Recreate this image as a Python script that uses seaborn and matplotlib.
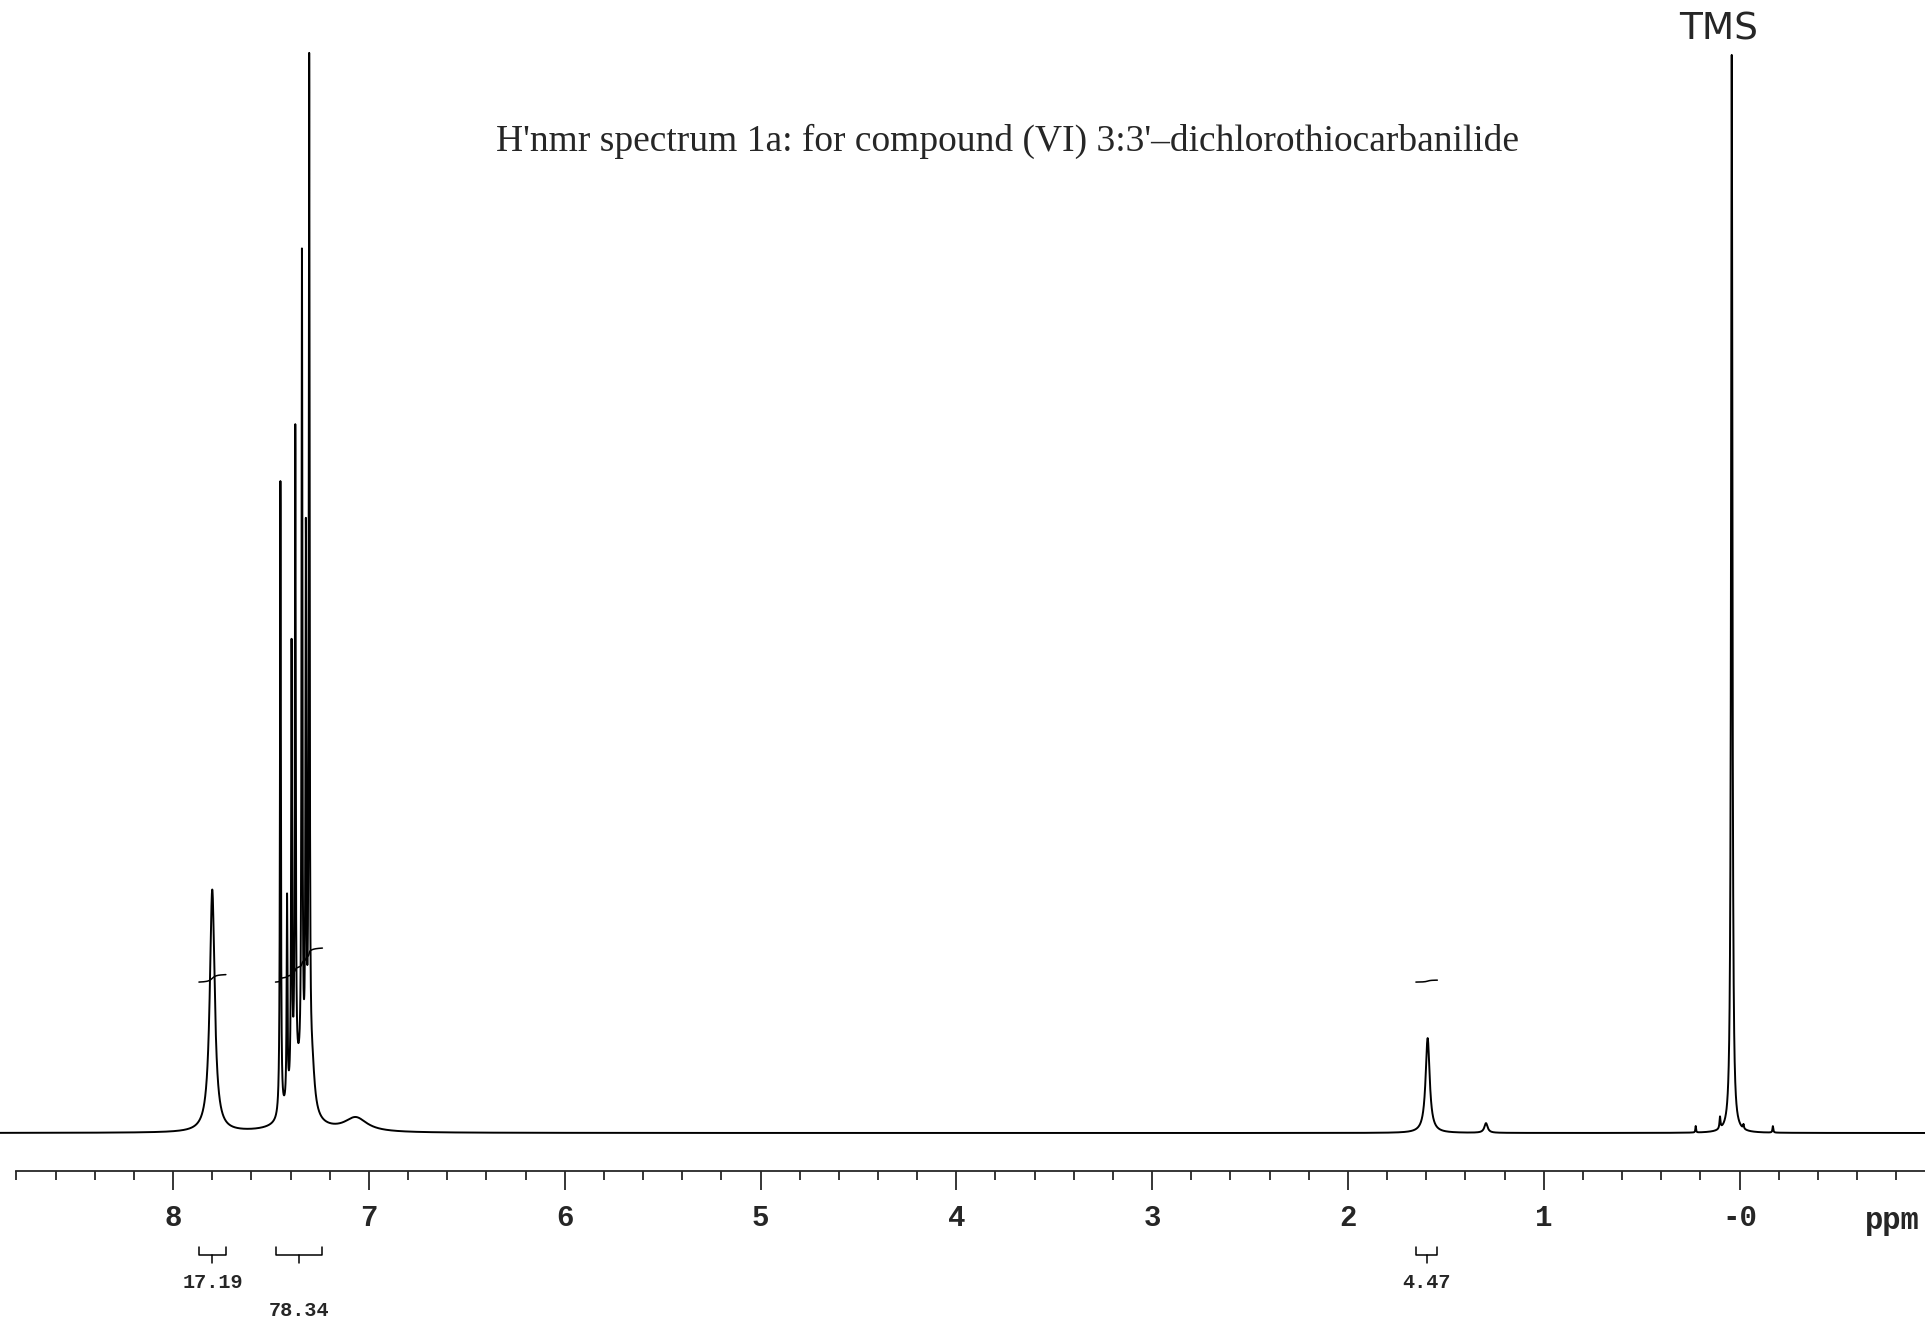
import numpy as np
import pandas as pd
import matplotlib
matplotlib.use("Agg")
import matplotlib.pyplot as plt
import matplotlib.transforms as mtransforms
import seaborn as sns

# =========================
# Data
# =========================
# peak list: centre (ppm), height (relative to TMS), line width (ppm)
peak_ppm = [7.800, 7.452, 7.418, 7.395, 7.376, 7.342, 7.322, 7.305,
            7.360, 7.290, 7.067, 1.593, 1.295, 0.224, 0.100, 0.040,
            -0.020, -0.170]
peak_height = [0.225, 0.59, 0.19, 0.41, 0.60, 0.76, 0.50, 0.945,
               0.045, 0.040, 0.013, 0.088, 0.009, 0.006, 0.011, 1.0,
               0.004, 0.006]
peak_width = [0.030, 0.005, 0.005, 0.005, 0.005, 0.005, 0.005, 0.005,
              0.100, 0.030, 0.140, 0.025, 0.020, 0.004, 0.006, 0.008,
              0.005, 0.005]

# integration regions and values printed under the axis
integral_start = [7.868, 7.477, 1.653]
integral_end = [7.730, 7.237, 1.543]
integral_value = [17.19, 78.34, 4.47]
integral_row = [0, 1, 0]

major_ticks = [8, 7, 6, 5, 4, 3, 2, 1, 0]
major_labels = ["8", "7", "6", "5", "4", "3", "2", "1", "-0"]

title = "H'nmr spectrum 1a: for compound (VI) 3:3'\u2013dichlorothiocarbanilide"

# =========================
# Build spectrum from the peak list
# =========================
ppm = np.arange(8.884, -0.947, -0.0005)
intensity = np.zeros_like(ppm)
for c, h, w in zip(peak_ppm, peak_height, peak_width):
    intensity += h / (1 + (2 * (ppm - c) / w) ** 2)

spec = pd.DataFrame({"ppm": ppm, "intensity": intensity})

# =========================
# Figure
# =========================
sns.set_style("ticks")
W, H = 1925, 1321
fig = plt.figure(figsize=(W / 100, H / 100), dpi=100)
ax_bottom = 1171  # pixel row of the ppm axis
ax = fig.add_axes([0, 1 - ax_bottom / H, 1, ax_bottom / H])

sns.lineplot(data=spec, x="ppm", y="intensity", ax=ax, color="black",
             lw=1.4, estimator=None, sort=False)

ax.set_xlim(8.884, -0.947)
ax.set_ylim(-38 / 1078, 1133 / 1078)

# integral traces
trace_base = 0.14
trace_scale = 0.434 / 1078
for s, e, v in zip(integral_start, integral_end, integral_value):
    m = (ppm <= s) & (ppm >= e)
    cum = np.cumsum(intensity[m])
    ax.plot(ppm[m], trace_base + cum / cum[-1] * v * trace_scale,
            color="black", lw=1.1)

# axis styling
sns.despine(ax=ax, left=True)
ax.spines["bottom"].set_bounds(8.8, -0.947)
ax.spines["bottom"].set_linewidth(1.3)
ax.set_yticks([])
ax.set_xticks(major_ticks)
ax.set_xticklabels(major_labels)
ax.set_xticks(np.arange(8.8, -0.95, -0.2), minor=True)
ax.tick_params(axis="x", which="major", length=13.5, width=1.3, pad=10,
               labelsize=21)
ax.tick_params(axis="x", which="minor", length=6.5, width=1.3)
for lab in ax.get_xticklabels():
    lab.set_fontfamily("Liberation Mono")
    lab.set_fontweight("bold")
ax.set_xlabel("")
ax.set_ylabel("")

tr = mtransforms.blended_transform_factory(ax.transData, ax.transAxes)
ax.text(-0.778, (ax_bottom - 1221) / ax_bottom, "ppm", ha="center",
        va="center", fontsize=22, fontweight="bold",
        family="Liberation Mono", transform=tr, clip_on=False)

# integration brackets and values
yb = (ax_bottom - 1255) / ax_bottom
ye = (ax_bottom - 1247) / ax_bottom
ys = (ax_bottom - 1263) / ax_bottom
for s, e, v, r in zip(integral_start, integral_end, integral_value, integral_row):
    mid = (s + e) / 2
    ax.plot([s, s, e, e], [ye, yb, yb, ye], color="black", lw=1.1,
            transform=tr, clip_on=False)
    ax.plot([mid, mid], [yb, ys], color="black", lw=1.1, transform=tr,
            clip_on=False)
    ty = (ax_bottom - (1283 + 27 * r)) / ax_bottom
    ax.text(mid, ty, f"{v:.2f}", ha="center", va="center", fontsize=14.5,
            fontweight="bold", family="Liberation Mono", transform=tr,
            clip_on=False)

# title and TMS annotation
fig.text(1007 / W, 1 - 141 / H, title, ha="center", va="center",
         fontsize=27, family="Liberation Serif")
fig.text(1719 / W, 1 - 30 / H, "TMS", ha="center", va="center",
         fontsize=27, family="DejaVu Sans")

fig.savefig("out.png", dpi=100)
